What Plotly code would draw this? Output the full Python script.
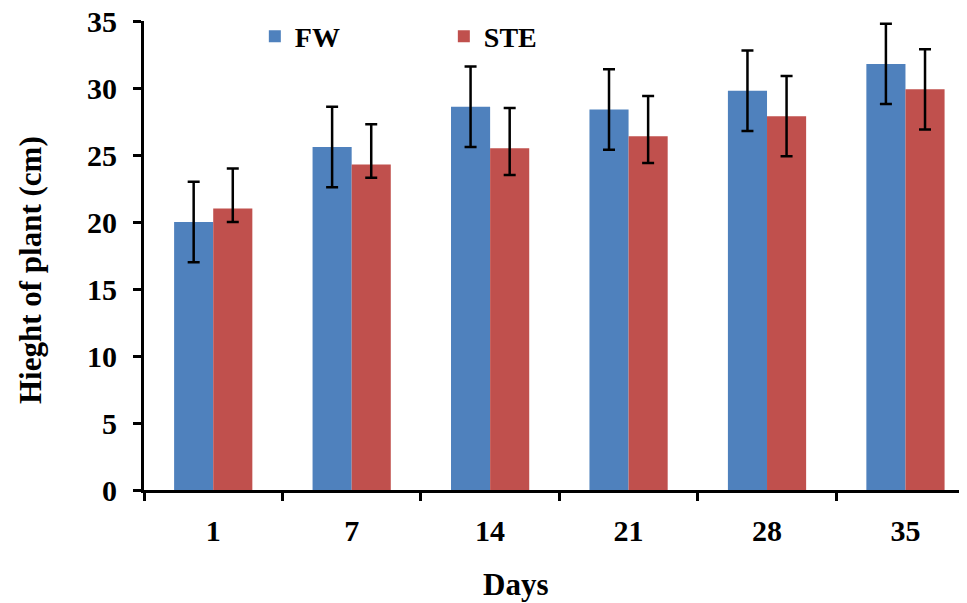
import plotly.graph_objects as go

days = ["1", "7", "14", "21", "28", "35"]
fw = [20.0, 25.6, 28.6, 28.4, 29.8, 31.8]
fw_err = [3, 3, 3, 3, 3, 3]
ste = [21.0, 24.3, 25.5, 26.4, 27.9, 29.9]
ste_err_plus = [3, 3, 3, 3, 3, 3]
ste_err_minus = [1, 1, 2, 2, 3, 3]

FONT = "Times New Roman, Liberation Serif, serif"
OFF = 8  # page body margin
W, H = 967, 603
l, r, t, b = 144 - OFF, 2 + OFF, 21 - OFF, 113 + OFF
pw, ph = W - l - r, H - t - b

fig = go.Figure()
fig.add_trace(go.Bar(
    x=days, y=fw, name="<b>FW</b>", marker=dict(color="#4F81BD", line=dict(width=0)),
    error_y=dict(type="data", array=fw_err, color="black", thickness=2.5, width=6),
))
fig.add_trace(go.Bar(
    x=days, y=ste, name="<b>STE</b>", marker=dict(color="#C0504D", line=dict(width=0)),
    error_y=dict(type="data", array=ste_err_plus, arrayminus=ste_err_minus,
                 color="black", thickness=2.5, width=6),
))

def ann(text, px, py, angle=0, size=31):
    return dict(text=text, xref="paper", yref="paper",
                x=(px - OFF - l) / pw, y=(H - b - (py - OFF)) / ph,
                xanchor="center", yanchor="middle", showarrow=False, textangle=angle,
                font=dict(family=FONT, size=size, color="black"))

fig.update_layout(
    width=W, height=H,
    paper_bgcolor="white", plot_bgcolor="white",
    margin=dict(l=l, r=r, t=t, b=b, autoexpand=False),
    barmode="group", bargap=0.435, bargroupgap=0,
    font=dict(family=FONT, size=28, color="black"),
    showlegend=True,
    legend=dict(orientation="h", x=0.135, y=1.02, xanchor="left", yanchor="top",
                entrywidth=144, entrywidthmode="pixels",
                font=dict(family=FONT, size=28, color="black"),
                bgcolor="rgba(0,0,0,0)"),
    xaxis=dict(type="category", range=[-0.5, 5.43], showline=True, linecolor="black",
               linewidth=3, ticks="outside", tickson="boundaries", ticklen=8,
               tickwidth=3, tickcolor="black", ticklabelstandoff=12,
               ticklabeloverflow="allow",
               tickfont=dict(family=FONT, size=30, color="black"),
               tickprefix="<b>", ticksuffix="</b>", showgrid=False, zeroline=False),
    yaxis=dict(range=[0, 35], dtick=5, showline=True, linecolor="black", linewidth=3,
               ticks="outside", ticklen=8, tickwidth=3, tickcolor="black",
               ticklabelstandoff=10, ticklabeloverflow="allow",
               tickfont=dict(family=FONT, size=30, color="black"),
               tickprefix="<b>", ticksuffix="</b>", showgrid=False, zeroline=False),
    annotations=[
        ann("<b>Days</b>", 515, 584),
        ann("<b>Hieght of plant (cm)</b>", 30, 270, -90),
    ],
)

fig.write_html("out.html")
